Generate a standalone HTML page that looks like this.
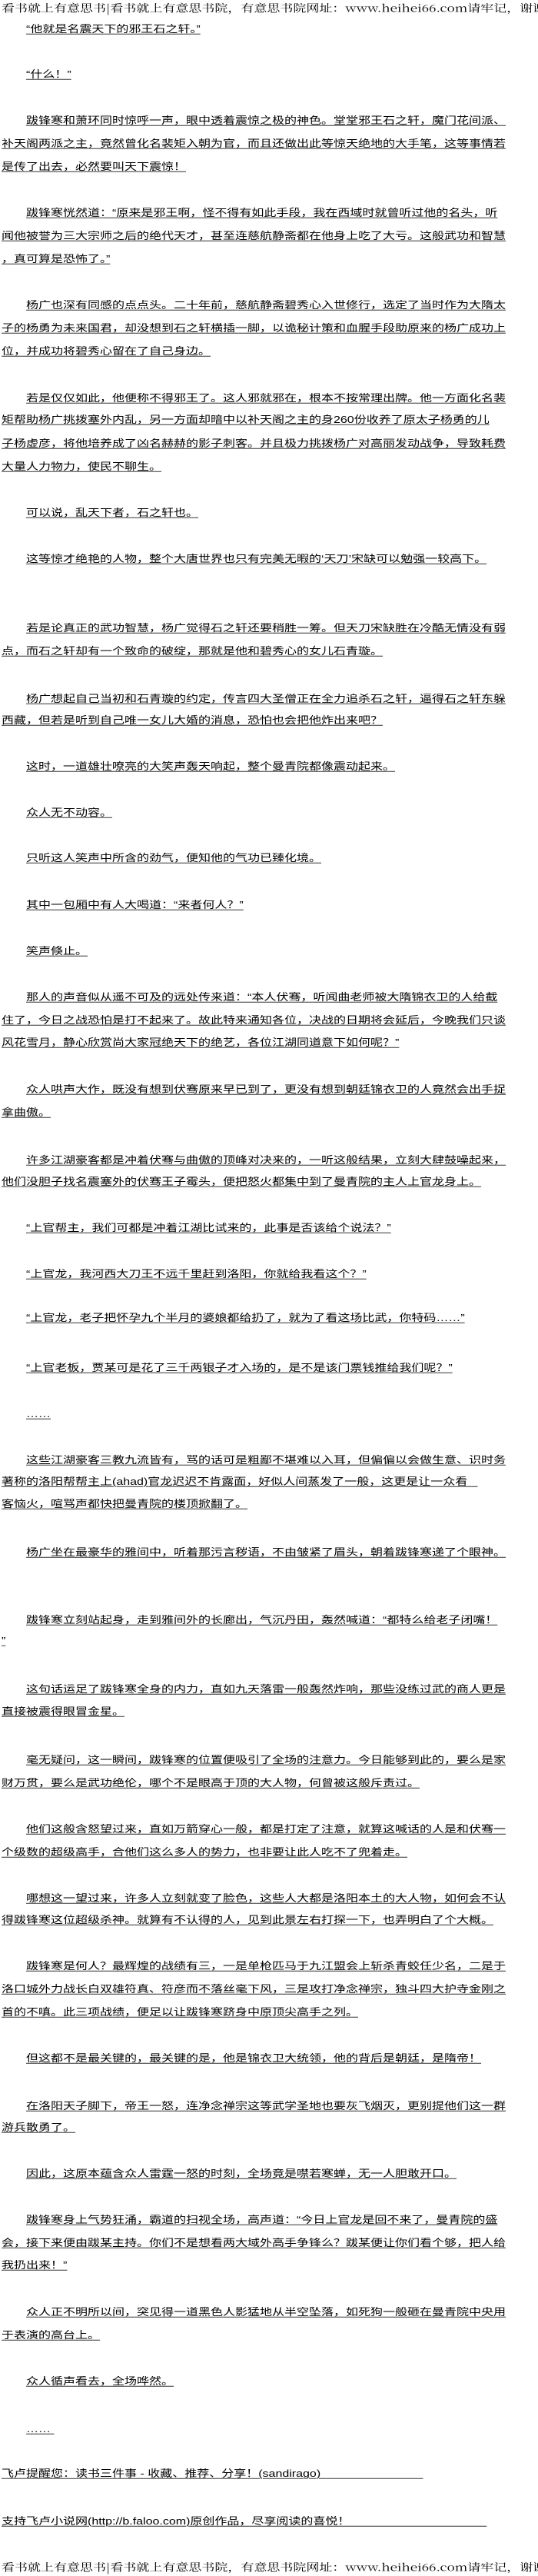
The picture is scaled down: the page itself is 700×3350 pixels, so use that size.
<!DOCTYPE html>
<html><head><meta charset="utf-8">
<style>
html,body{margin:0;padding:0;background:#fff;}
body{width:700px;height:3350px;position:relative;overflow:hidden;font-family:"Liberation Sans","Noto Sans CJK SC",sans-serif;color:#000;}
.l{position:absolute;left:2px;white-space:nowrap;font-size:16px;line-height:16px;height:16px;transform:scaleY(.8);transform-origin:0 50%;text-decoration:underline;text-decoration-thickness:1px;text-underline-offset:2px;}
.i{left:34px;}
.h{position:absolute;left:2px;white-space:nowrap;font-size:17px;line-height:18px;transform:scaleY(.8);transform-origin:0 50%;font-family:"Noto Serif CJK SC","Liberation Serif",serif;}
</style></head><body>
<div class="h" style="top:1px">看书就上有意思书|看书就上有意思书院，有意思书院网址：www.heihei66.com请牢记，谢谢</div>
<div class="l i" style="top:31px">“他就是名震天下的邪王石之轩。”</div>
<div class="l i" style="top:90px">“什么！”</div>
<div class="l i" style="top:150px">跋锋寒和萧环同时惊呼一声，眼中透着震惊之极的神色。堂堂邪王石之轩，魔门花间派、</div>
<div class="l" style="top:180px">补天阁两派之主，竟然曾化名裴矩入朝为官，而且还做出此等惊天绝地的大手笔，这等事情若</div>
<div class="l" style="top:210px">是传了出去，必然要叫天下震惊！</div>
<div class="l i" style="top:270px">跋锋寒恍然道：“原来是邪王啊，怪不得有如此手段，我在西域时就曾听过他的名头，听</div>
<div class="l" style="top:300px">闻他被誉为三大宗师之后的绝代天才，甚至连慈航静斋都在他身上吃了大亏。这般武功和智慧</div>
<div class="l" style="top:330px">，真可算是恐怖了。”</div>
<div class="l i" style="top:390px">杨广也深有同感的点点头。二十年前，慈航静斋碧秀心入世修行，选定了当时作为大隋太</div>
<div class="l" style="top:420px">子的杨勇为未来国君，却没想到石之轩横插一脚，以诡秘计策和血腥手段助原来的杨广成功上</div>
<div class="l" style="top:450px">位，并成功将碧秀心留在了自己身边。</div>
<div class="l i" style="top:511px">若是仅仅如此，他便称不得邪王了。这人邪就邪在，根本不按常理出牌。他一方面化名裴</div>
<div class="l" style="top:539px">矩帮助杨广挑拨塞外内乱，另一方面却暗中以补天阁之主的身260份收养了原太子杨勇的儿</div>
<div class="l" style="top:570px">子杨虚彦，将他培养成了凶名赫赫的影子刺客。并且极力挑拨杨广对高丽发动战争，导致耗费</div>
<div class="l" style="top:600px">大量人力物力，使民不聊生。</div>
<div class="l i" style="top:660px">可以说，乱天下者，石之轩也。</div>
<div class="l i" style="top:720px">这等惊才绝艳的人物，整个大唐世界也只有完美无暇的‘天刀’宋缺可以勉强一较高下。</div>
<div class="l i" style="top:810px">若是论真正的武功智慧，杨广觉得石之轩还要稍胜一筹。但天刀宋缺胜在冷酷无情没有弱</div>
<div class="l" style="top:840px">点，而石之轩却有一个致命的破绽，那就是他和碧秀心的女儿石青璇。</div>
<div class="l i" style="top:902px">杨广想起自己当初和石青璇的约定，传言四大圣僧正在全力追杀石之轩，逼得石之轩东躲</div>
<div class="l" style="top:930px">西藏，但若是听到自己唯一女儿大婚的消息，恐怕也会把他炸出来吧？</div>
<div class="l i" style="top:990px">这时，一道雄壮嘹亮的大笑声轰天响起，整个曼青院都像震动起来。</div>
<div class="l i" style="top:1050px">众人无不动容。</div>
<div class="l i" style="top:1109px">只听这人笑声中所含的劲气，便知他的气功已臻化境。</div>
<div class="l i" style="top:1170px">其中一包厢中有人大喝道：“来者何人？”</div>
<div class="l i" style="top:1230px">笑声倏止。</div>
<div class="l i" style="top:1290px">那人的声音似从遥不可及的远处传来道：“本人伏骞，听闻曲老师被大隋锦衣卫的人给截</div>
<div class="l" style="top:1320px">住了，今日之战恐怕是打不起来了。故此特来通知各位，决战的日期将会延后，今晚我们只谈</div>
<div class="l" style="top:1349px">风花雪月，静心欣赏尚大家冠绝天下的绝艺，各位江湖同道意下如何呢？”</div>
<div class="l i" style="top:1410px">众人哄声大作，既没有想到伏骞原来早已到了，更没有想到朝廷锦衣卫的人竟然会出手捉</div>
<div class="l" style="top:1440px">拿曲傲。</div>
<div class="l i" style="top:1502px">许多江湖豪客都是冲着伏骞与曲傲的顶峰对决来的，一听这般结果，立刻大肆鼓噪起来，</div>
<div class="l" style="top:1530px">他们没胆子找名震塞外的伏骞王子霉头，便把怒火都集中到了曼青院的主人上官龙身上。</div>
<div class="l i" style="top:1590px">“上官帮主，我们可都是冲着江湖比试来的，此事是否该给个说法？”</div>
<div class="l i" style="top:1650px">“上官龙，我河西大刀王不远千里赶到洛阳，你就给我看这个？”</div>
<div class="l i" style="top:1707px">“上官龙，老子把怀孕九个半月的婆娘都给扔了，就为了看这场比武，你特码……”</div>
<div class="l i" style="top:1772px">“上官老板，贾某可是花了三千两银子才入场的，是不是该门票钱推给我们呢？”</div>
<div class="l i" style="top:1832px">……</div>
<div class="l i" style="top:1892px">这些江湖豪客三教九流皆有，骂的话可是粗鄙不堪难以入耳，但偏偏以会做生意、识时务</div>
<div class="l" style="top:1920px">著称的洛阳帮帮主上(ahad)官龙迟迟不肯露面，好似人间蒸发了一般，这更是让一众看&nbsp;&nbsp;&nbsp;</div>
<div class="l" style="top:1949px">客恼火，喧骂声都快把曼青院的楼顶掀翻了。</div>
<div class="l i" style="top:2012px">杨广坐在最豪华的雅间中，听着那污言秽语，不由皱紧了眉头，朝着跋锋寒递了个眼神。</div>
<div class="l i" style="top:2100px">跋锋寒立刻站起身，走到雅间外的长廊出，气沉丹田，轰然喊道：“都特么给老子闭嘴！</div>
<div class="l" style="top:2127px">”</div>
<div class="l i" style="top:2190px">这句话运足了跋锋寒全身的内力，直如九天落雷一般轰然炸响，那些没练过武的商人更是</div>
<div class="l" style="top:2219px">直接被震得眼冒金星。</div>
<div class="l i" style="top:2282px">毫无疑问，这一瞬间，跋锋寒的位置便吸引了全场的注意力。今日能够到此的，要么是家</div>
<div class="l" style="top:2312px">财万贯，要么是武功绝伦，哪个不是眼高于顶的大人物，何曾被这般斥责过。</div>
<div class="l i" style="top:2372px">他们这般含怒望过来，直如万箭穿心一般，都是打定了注意，就算这喊话的人是和伏骞一</div>
<div class="l" style="top:2402px">个级数的超级高手，合他们这么多人的势力，也非要让此人吃不了兜着走。</div>
<div class="l i" style="top:2462px">哪想这一望过来，许多人立刻就变了脸色，这些人大都是洛阳本土的大人物，如何会不认</div>
<div class="l" style="top:2490px">得跋锋寒这位超级杀神。就算有不认得的人，见到此景左右打探一下，也弄明白了个大概。</div>
<div class="l i" style="top:2550px">跋锋寒是何人？最辉煌的战绩有三，一是单枪匹马于九江盟会上斩杀青蛟任少名，二是于</div>
<div class="l" style="top:2580px">洛口城外力战长白双雄符真、符彦而不落丝毫下风，三是攻打净念禅宗，独斗四大护寺金刚之</div>
<div class="l" style="top:2610px">首的不嗔。此三项战绩，便足以让跋锋寒跻身中原顶尖高手之列。</div>
<div class="l i" style="top:2670px">但这都不是最关键的，最关键的是，他是锦衣卫大统领，他的背后是朝廷，是隋帝！</div>
<div class="l i" style="top:2732px">在洛阳天子脚下，帝王一怒，连净念禅宗这等武学圣地也要灰飞烟灭，更别提他们这一群</div>
<div class="l" style="top:2760px">游兵散勇了。</div>
<div class="l i" style="top:2820px">因此，这原本蕴含众人雷霆一怒的时刻，全场竟是噤若寒蝉，无一人胆敢开口。</div>
<div class="l i" style="top:2880px">跋锋寒身上气势狂涌，霸道的扫视全场，高声道：“今日上官龙是回不来了，曼青院的盛</div>
<div class="l" style="top:2910px">会，接下来便由跋某主持。你们不是想看两大域外高手争锋么？跋某便让你们看个够，把人给</div>
<div class="l" style="top:2939px">我扔出来！”</div>
<div class="l i" style="top:3000px">众人正不明所以间，突见得一道黑色人影猛地从半空坠落，如死狗一般砸在曼青院中央用</div>
<div class="l" style="top:3030px">于表演的高台上。</div>
<div class="l i" style="top:3090px">众人循声看去，全场哗然。</div>
<div class="l i" style="top:3152px">……&nbsp;</div>
<div class="l" style="top:3210px">飞卢提醒您：读书三件事 - 收藏、推荐、分享！(sandirago)&nbsp;&nbsp;&nbsp;&nbsp;&nbsp;&nbsp;&nbsp;&nbsp;&nbsp;&nbsp;&nbsp;&nbsp;&nbsp;&nbsp;&nbsp;&nbsp;&nbsp;&nbsp;&nbsp;&nbsp;&nbsp;&nbsp;&nbsp;&nbsp;&nbsp;&nbsp;&nbsp;&nbsp;&nbsp;&nbsp;</div>
<div class="l" style="top:3272px">支持飞卢小说网(http://b.faloo.com)原创作品，尽享阅读的喜悦！&nbsp;&nbsp;&nbsp;&nbsp;&nbsp;&nbsp;&nbsp;&nbsp;&nbsp;&nbsp;&nbsp;&nbsp;&nbsp;&nbsp;&nbsp;&nbsp;&nbsp;&nbsp;&nbsp;&nbsp;&nbsp;&nbsp;&nbsp;&nbsp;&nbsp;&nbsp;&nbsp;&nbsp;&nbsp;&nbsp;&nbsp;&nbsp;&nbsp;&nbsp;&nbsp;&nbsp;&nbsp;&nbsp;&nbsp;&nbsp;</div>
<div class="h" style="top:3329px">看书就上有意思书|看书就上有意思书院，有意思书院网址：www.heihei66.com请牢记，谢谢</div>
</body></html>
